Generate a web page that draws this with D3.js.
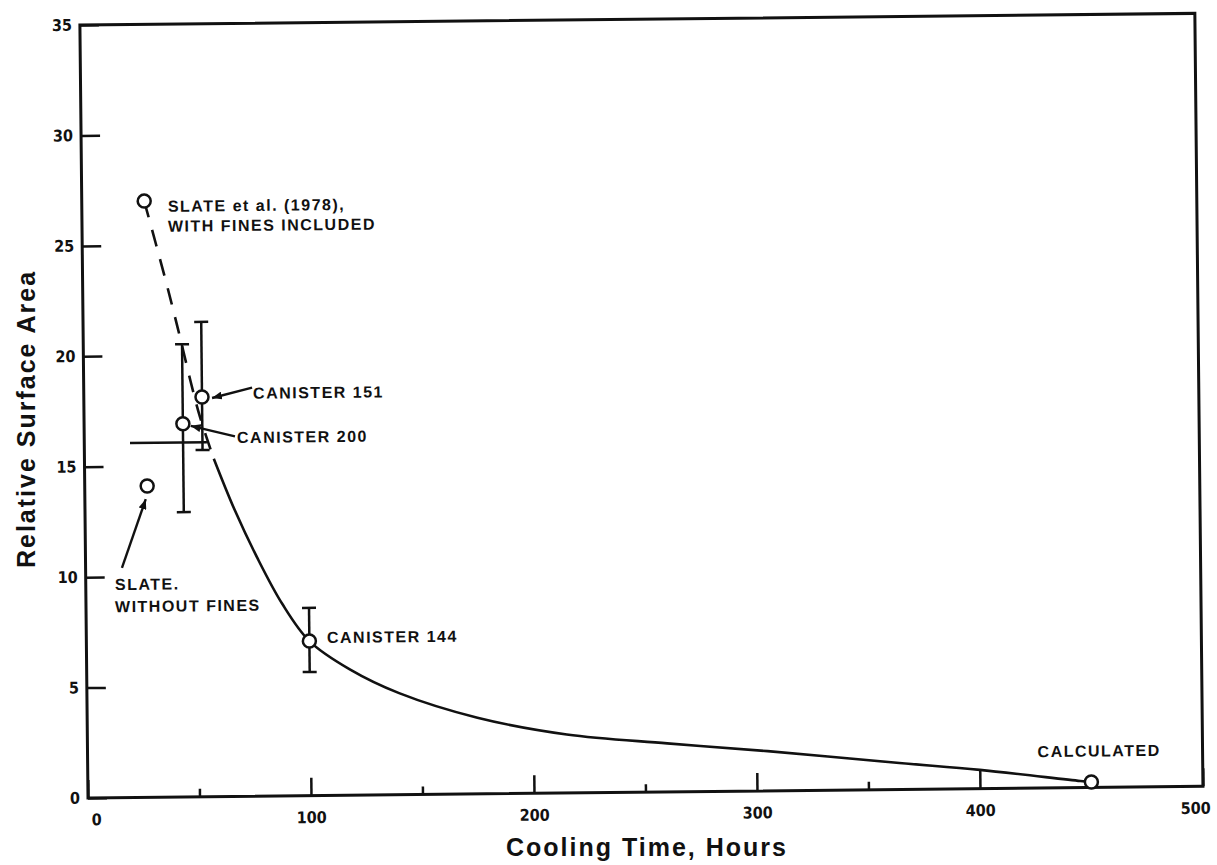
<!DOCTYPE html>
<html>
<head>
<meta charset="utf-8">
<script src="https://cdn.jsdelivr.net/npm/d3@7"></script>
<style>
  body { margin: 0; background: #fff; }
  svg text { fill: #111; }
  .tick text { font-family: "Liberation Sans Narrow", "Arial Narrow", "DejaVu Sans Condensed", sans-serif; font-weight: bold; font-size: 16px; }
  .note { font-family: "Liberation Sans", Arial, sans-serif; font-weight: bold; font-size: 16px; letter-spacing: 1.5px; }
  .title { font-family: "Liberation Sans", Arial, Helvetica, sans-serif; font-weight: bold; font-size: 25px; letter-spacing: 2px; }
</style>
</head>
<body>
<div id="chart"></div>
<script>
// axis ticks
var xTicks = [0, 100, 200, 300, 400, 500];
var xMinor = [50, 150, 250, 350];
var yTicks = [0, 5, 10, 15, 20, 25, 30, 35];

// fitted curve [hours, relative area] - dashed part then solid part
var fitDashed = [[28, 27], [37, 23.5], [43, 21.0], [48, 18.8], [52, 17.2], [58, 15.3]];
var fitSolid = [[58, 15.3], [67, 13.0], [77, 10.8], [88, 8.7], [100, 7.0], [118, 5.7], [140, 4.6], [175, 3.45],
                [215, 2.65], [260, 2.2], [305, 1.8], [364, 1.2], [400, 0.85], [445, 0.3], [450, 0.25]];

// measured points [hours, relative area]
var points = [[28, 27], [28, 14.1], [44.3, 16.9], [53, 18.1], [100, 7.0], [450, 0.25]];
// vertical error bars [hours, low, high]
var vBars = [[44.3, 12.9, 20.5], [53, 15.7, 21.5], [100, 5.6, 8.5]];
// horizontal error bars [value, from hours, to hours]
var hBars = [[16.05, 20.5, 55]];

// labels anchored in data units
var noteText = ["SLATE et al. (1978),", "WITH FINES INCLUDED", "CANISTER 151", "CANISTER 200",
                "CANISTER 144", "SLATE.", "WITHOUT FINES", "CALCULATED"];
var noteAt = [[38.6, 26.5], [38.5, 25.6], [75.9, 18.0], [68.5, 16.0],
              [107.9, 6.9], [13.1, 9.4], [13, 8.4], [426, 1.4]];
// arrows [from, to]
var arrows = [[[75.5, 18.5], [57.5, 18.05]], [[67.6, 16.3], [47.8, 16.8]], [[16.3, 10.4], [27.3, 13.5]]];

var margin = { left: 88, top: 25 };
var width = 1115, height = 773;

var svg = d3.select("#chart").append("svg")
    .attr("width", 1217)
    .attr("height", 865);

svg.append("defs").append("marker")
    .attr("id", "head")
    .attr("viewBox", "0 0 10 8")
    .attr("refX", 10).attr("refY", 4)
    .attr("markerWidth", 10).attr("markerHeight", 8)
    .attr("markerUnits", "userSpaceOnUse")
    .attr("orient", "auto")
  .append("path")
    .attr("d", "M0,0L10,4L0,8z")
    .attr("fill", "#111");

// the scanned figure sits slightly tilted
var g = svg.append("g")
    .attr("transform", "rotate(-0.6," + margin.left + "," + (margin.top + height) + ") translate(" + margin.left + "," + margin.top + ")");

var x = d3.scaleLinear().domain([0, 500]).range([0, width]);
var y = d3.scaleLinear().domain([0, 35]).range([height, 0]);

var xAxis = g.append("g")
    .attr("transform", "translate(0," + height + ")")
    .attr("color", "#111")
    .call(d3.axisBottom(x).tickValues(xTicks).tickSizeInner(-18).tickSizeOuter(0).tickPadding(16));
xAxis.select(".domain").remove();
xAxis.selectAll(".tick text").filter(function(d) { return d === 0; }).attr("dx", 8);
xAxis.selectAll(".tick text").filter(function(d) { return d === 500; }).attr("dx", -8);

var xMinorAxis = g.append("g")
    .attr("transform", "translate(0," + height + ")")
    .attr("color", "#111")
    .call(d3.axisBottom(x).tickValues(xMinor).tickSize(-8).tickFormat(""));
xMinorAxis.select(".domain").remove();

var yAxis = g.append("g")
    .attr("color", "#111")
    .call(d3.axisLeft(y).tickValues(yTicks).tickSizeInner(-19).tickSizeOuter(0).tickPadding(8));
yAxis.select(".domain").remove();

g.selectAll(".tick line").attr("stroke-width", 2.5);

g.append("rect")
    .attr("width", width)
    .attr("height", height)
    .attr("fill", "none")
    .attr("stroke", "#111")
    .attr("stroke-width", 3);

var line = d3.line()
    .x(function(d) { return x(d[0]); })
    .y(function(d) { return y(d[1]); })
    .curve(d3.curveCatmullRom.alpha(0.5));

g.append("path")
    .datum(fitDashed)
    .attr("d", line)
    .attr("fill", "none")
    .attr("stroke", "#111")
    .attr("stroke-width", 2.6)
    .attr("stroke-dasharray", "17,13");

g.append("path")
    .datum(fitSolid)
    .attr("d", line)
    .attr("fill", "none")
    .attr("stroke", "#111")
    .attr("stroke-width", 2.6);

// error bars
var cap = 7;
var bars = g.append("g")
    .attr("stroke", "#111")
    .attr("stroke-width", 2.5);
vBars.forEach(function(b) {
  bars.append("line").attr("x1", x(b[0])).attr("x2", x(b[0])).attr("y1", y(b[1])).attr("y2", y(b[2]));
  bars.append("line").attr("x1", x(b[0]) - cap).attr("x2", x(b[0]) + cap).attr("y1", y(b[1])).attr("y2", y(b[1]));
  bars.append("line").attr("x1", x(b[0]) - cap).attr("x2", x(b[0]) + cap).attr("y1", y(b[2])).attr("y2", y(b[2]));
});
hBars.forEach(function(b) {
  bars.append("line").attr("x1", x(b[1])).attr("x2", x(b[2])).attr("y1", y(b[0])).attr("y2", y(b[0]));
});

// arrows
g.selectAll(".arrow")
    .data(arrows)
  .enter().append("line")
    .attr("class", "arrow")
    .attr("x1", function(d) { return x(d[0][0]); })
    .attr("y1", function(d) { return y(d[0][1]); })
    .attr("x2", function(d) { return x(d[1][0]); })
    .attr("y2", function(d) { return y(d[1][1]); })
    .attr("stroke", "#111")
    .attr("stroke-width", 2.4)
    .attr("marker-end", "url(#head)");

g.selectAll(".pt")
    .data(points)
  .enter().append("circle")
    .attr("class", "pt")
    .attr("cx", function(d) { return x(d[0]); })
    .attr("cy", function(d) { return y(d[1]); })
    .attr("r", 6.5)
    .attr("fill", "#fff")
    .attr("stroke", "#111")
    .attr("stroke-width", 2.5);

g.selectAll(".note")
    .data(noteText)
  .enter().append("text")
    .attr("class", "note")
    .attr("x", function(d, i) { return x(noteAt[i][0]); })
    .attr("y", function(d, i) { return y(noteAt[i][1]); })
    .text(function(d) { return d; });

// axis titles
svg.append("text")
    .attr("class", "title")
    .attr("text-anchor", "middle")
    .attr("transform", "translate(35,419) rotate(-90)")
    .text("Relative Surface Area");

svg.append("text")
    .attr("class", "title")
    .attr("text-anchor", "middle")
    .attr("x", 647)
    .attr("y", 856)
    .text("Cooling Time, Hours");
</script>
</body>
</html>
